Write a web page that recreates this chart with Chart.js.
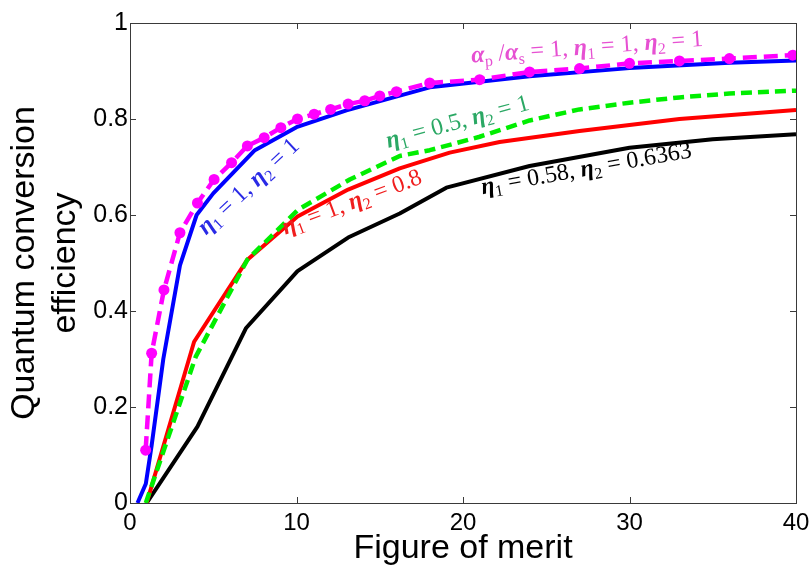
<!DOCTYPE html>
<html>
<head>
<meta charset="utf-8">
<script src="https://cdn.jsdelivr.net/npm/chart.js@4/dist/chart.umd.min.js"></script>
<style>
  html, body { margin: 0; padding: 0; background: #ffffff; }
  #wrap { width: 810px; height: 569px; }
</style>
</head>
<body>
<div id="wrap"><canvas id="c" width="810" height="569"></canvas></div>
<script>
// ---------------- data ----------------
const xTickLabels = ['0', '10', '20', '30', '40'];
const yTickLabels = ['0', '0.2', '0.4', '0.6', '0.8', '1'];

// alpha_p/alpha_s = 1, eta1 = 1, eta2 = 1 (magenta dashed with dots)
const meritMagenta = [0.94, 1.3, 2.04, 3.0, 4.05, 5.05, 6.1, 7.05, 8.06, 9.06, 10.06, 11.06, 12.05, 13.1, 14.1, 15.0, 16.0, 18.0, 21.0, 24.0, 27.0, 30.0, 33.0, 36.0, 39.8];
const effMagenta   = [0.11, 0.312, 0.444, 0.563, 0.625, 0.674, 0.709, 0.744, 0.761, 0.782, 0.800, 0.810, 0.820, 0.831, 0.838, 0.848, 0.857, 0.875, 0.882, 0.898, 0.905, 0.916, 0.921, 0.926, 0.933];

// eta1 = 1, eta2 = 1 (blue)
const meritBlue = [0.45, 0.95, 1.3, 2.0, 3.0, 4.0, 5.0, 7.5, 10, 13, 18, 24, 30, 36, 40];
const effBlue   = [0, 0.04, 0.12, 0.30, 0.495, 0.60, 0.645, 0.735, 0.783, 0.818, 0.866, 0.889, 0.906, 0.917, 0.922];

// eta1 = 0.5, eta2 = 1 (green dashed)
const meritGreen = [0.95, 3.95, 7.05, 10.1, 13.2, 16.2, 18.0, 21.0, 24.0, 27.0, 30.0, 33.0, 36.0, 40.0];
const effGreen   = [0, 0.305, 0.507, 0.611, 0.674, 0.723, 0.735, 0.763, 0.797, 0.820, 0.834, 0.845, 0.853, 0.859];

// eta1 = 1, eta2 = 0.8 (red)
const meritRed = [1.0, 3.85, 7.05, 10.06, 13.1, 16.2, 19.2, 22.2, 27, 33, 40];
const effRed   = [0, 0.336, 0.507, 0.597, 0.653, 0.697, 0.730, 0.752, 0.775, 0.800, 0.819];

// eta1 = 0.58, eta2 = 0.6363 (black)
const meritBlack = [1.0, 4.05, 6.96, 10.06, 13.1, 16.2, 19.0, 24.0, 30.0, 35.0, 40.0];
const effBlack   = [0, 0.159, 0.364, 0.483, 0.553, 0.603, 0.657, 0.702, 0.740, 0.758, 0.768];

// curve labels: position in data units, rotation in degrees
const labelMagenta = { x: 27.48, y: 0.935, angle: -4.1, color: '#e650d2',
  parts: [['α','bi'],['p','sub'],[' /','r'],['α','bi'],['s','sub'],[' = 1, ','r'],['η','bi'],['1','sub'],[' = 1, ','r'],['η','bi'],['2','sub'],[' = 1','r']] };
const labelBlue = { x: 7.40, y: 0.649, angle: -43, color: '#2a2ae6',
  parts: [['η','bi'],['1','sub'],[' = 1, ','r'],['η','bi'],['2','sub'],[' = 1','r']] };
const labelGreen = { x: 19.78, y: 0.780, angle: -15.2, color: '#2aa864',
  parts: [['η','bi'],['1','sub'],[' = 0.5, ','r'],['η','bi'],['2','sub'],[' = 1','r']] };
const labelRed = { x: 13.47, y: 0.613, angle: -20.6, color: '#f01e1e',
  parts: [['η','bi'],['1','sub'],[' = 1, ','r'],['η','bi'],['2','sub'],[' = 0.8','r']] };
const labelBlack = { x: 27.48, y: 0.682, angle: -10, color: '#000000',
  parts: [['η','bi'],['1','sub'],[' = 0.58, ','r'],['η','bi'],['2','sub'],[' = 0.6363','r']] };
const curveLabels = [labelMagenta, labelBlue, labelGreen, labelRed, labelBlack];

// ---------------- helpers ----------------
function zip(xs, ys) { return xs.map((x, i) => ({ x: x, y: ys[i] })); }

const SERIF = '"Liberation Serif", "DejaVu Serif", serif';
const SANS = '"Liberation Sans", Arial, sans-serif';
const LABEL_SIZE = 24;

function fontFor(style) {
  if (style === 'bi') return 'italic bold ' + LABEL_SIZE + 'px ' + SERIF;
  if (style === 'sub') return Math.round(LABEL_SIZE * 0.66) + 'px ' + SERIF;
  return LABEL_SIZE + 'px ' + SERIF;
}

const frameAndLabels = {
  id: 'frameAndLabels',
  beforeDatasetsDraw(chart) {
    const { ctx, chartArea: a, scales } = chart;
    ctx.save();
    ctx.strokeStyle = '#3a3a3a';
    ctx.lineWidth = 1;
    ctx.strokeRect(Math.round(a.left) + 0.5, Math.round(a.top) + 0.5,
                   Math.round(a.right - a.left), Math.round(a.bottom - a.top));
    const tl = 6;
    ctx.beginPath();
    scales.x.ticks.forEach(t => {
      const px = Math.round(scales.x.getPixelForValue(t.value)) + 0.5;
      if (px <= a.left + 1 || px >= a.right - 1) return;
      ctx.moveTo(px, a.bottom); ctx.lineTo(px, a.bottom - tl);
      ctx.moveTo(px, a.top); ctx.lineTo(px, a.top + tl);
    });
    scales.y.ticks.forEach(t => {
      const py = Math.round(scales.y.getPixelForValue(t.value)) + 0.5;
      if (py <= a.top + 1 || py >= a.bottom - 1) return;
      ctx.moveTo(a.left, py); ctx.lineTo(a.left + tl, py);
      ctx.moveTo(a.right, py); ctx.lineTo(a.right - tl, py);
    });
    ctx.stroke();
    ctx.restore();
  },
  afterDatasetsDraw(chart) {
    const { ctx, scales } = chart;
    curveLabels.forEach(lab => {
      ctx.save();
      const px = scales.x.getPixelForValue(lab.x);
      const py = scales.y.getPixelForValue(lab.y);
      ctx.translate(px, py);
      ctx.rotate(lab.angle * Math.PI / 180);
      ctx.fillStyle = lab.color;
      ctx.textBaseline = 'alphabetic';
      ctx.textAlign = 'left';
      let total = 0;
      lab.parts.forEach(p => { ctx.font = fontFor(p[1]); total += ctx.measureText(p[0]).width; });
      let cx = -total / 2;
      lab.parts.forEach(p => {
        ctx.font = fontFor(p[1]);
        const dy = p[1] === 'sub' ? LABEL_SIZE * 0.2 : 0;
        ctx.fillText(p[0], cx, dy);
        cx += ctx.measureText(p[0]).width;
      });
      ctx.restore();
    });
  }
};

// ---------------- chart ----------------
const ctx = document.getElementById('c').getContext('2d');
new Chart(ctx, {
  type: 'scatter',
  data: {
    datasets: [
      { label: 'αp/αs = 1, η1 = 1, η2 = 1', data: zip(meritMagenta, effMagenta), showLine: true,
        borderColor: '#ff00ff', backgroundColor: '#ff00ff', borderWidth: 4.5, borderDash: [14, 7],
        pointRadius: 5.5, pointBorderWidth: 0, pointBackgroundColor: '#ff00ff', order: 1 },
      { label: 'η1 = 0.5, η2 = 1', data: zip(meritGreen, effGreen), showLine: true,
        borderColor: '#00ee00', backgroundColor: '#00ee00', borderWidth: 4.5, borderDash: [11, 6],
        pointRadius: 0, order: 2 },
      { label: 'η1 = 1, η2 = 1', data: zip(meritBlue, effBlue), showLine: true,
        borderColor: '#0000ff', backgroundColor: '#0000ff', borderWidth: 4,
        pointRadius: 0, order: 3 },
      { label: 'η1 = 1, η2 = 0.8', data: zip(meritRed, effRed), showLine: true,
        borderColor: '#ff0000', backgroundColor: '#ff0000', borderWidth: 4,
        pointRadius: 0, order: 4 },
      { label: 'η1 = 0.58, η2 = 0.6363', data: zip(meritBlack, effBlack), showLine: true,
        borderColor: '#000000', backgroundColor: '#000000', borderWidth: 4,
        pointRadius: 0, order: 5 }
    ]
  },
  options: {
    responsive: false,
    animation: false,
    devicePixelRatio: 1,
    layout: { padding: { top: 23, right: 14, left: 0, bottom: 0 } },
    plugins: { legend: { display: false }, tooltip: { enabled: false } },
    elements: { line: { tension: 0, borderCapStyle: 'butt', borderJoinStyle: 'round' } },
    scales: {
      x: {
        type: 'linear', min: 0, max: 40,
        grid: { display: false, drawTicks: false },
        border: { display: false },
        ticks: { stepSize: 10, padding: 6, color: '#000', font: { family: SANS, size: 24 },
                 maxRotation: 0, callback: (v) => xTickLabels[Math.round(v / 10)] },
        title: { display: true, text: 'Figure of merit', color: '#000',
                 font: { family: SANS, size: 34 }, padding: { top: 0, bottom: 0 } },
        afterFit: (s) => { s.height = 66; s.paddingLeft = 0; s.paddingRight = 0; }
      },
      y: {
        type: 'linear', min: 0, max: 1,
        grid: { display: false, drawTicks: false },
        border: { display: false },
        ticks: { stepSize: 0.2, padding: 2, color: '#000', font: { family: SANS, size: 25 },
                 callback: (v) => yTickLabels[Math.round(v / 0.2)] },
        title: { display: true, text: ['Quantum conversion', 'efficiency'], color: '#000',
                 font: { family: SANS, size: 34, lineHeight: 1.2 }, padding: { top: 4, bottom: 0 } },
        afterFit: (s) => { s.width = 130; s.paddingTop = 0; s.paddingBottom = 0; }
      }
    }
  },
  plugins: [frameAndLabels]
});
</script>
</body>
</html>
